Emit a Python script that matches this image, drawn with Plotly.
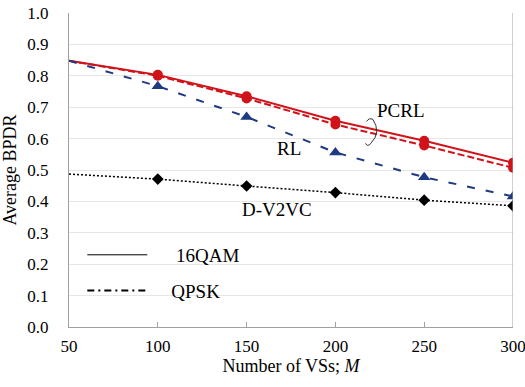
import plotly.graph_objects as go

M = [50, 100, 150, 200, 250, 300]
pcrl_16qam = [0.848, 0.803, 0.735, 0.657, 0.593, 0.523]
pcrl_qpsk = [0.848, 0.800, 0.728, 0.645, 0.578, 0.507]
rl = [0.848, 0.767, 0.669, 0.556, 0.477, 0.416]
dv2vc = [0.487, 0.471, 0.449, 0.428, 0.404, 0.386]

yticks = [round(i * 0.1, 1) for i in range(11)]
xticks = [50, 100, 150, 200, 250, 300]

FONT = "Liberation Serif, Times New Roman, serif"
RED = "#D0131A"
BLUE = "#1F3A80"

msize = lambda s: [0] + [s] * (len(M) - 1)

def mk(symbol, size, color):
    return dict(symbol=symbol, size=msize(size), color=color, opacity=1,
                line=dict(width=0, color=color))

fig = go.Figure()
fig.add_trace(go.Scatter(x=M, y=pcrl_qpsk, mode="lines+markers", showlegend=False,
                         line=dict(color=RED, width=2, dash="7px,3px"),
                         marker=mk("circle", 10, RED)))
fig.add_trace(go.Scatter(x=M, y=pcrl_16qam, mode="lines+markers", showlegend=False,
                         line=dict(color=RED, width=2),
                         marker=mk("circle", 10, RED)))
fig.add_trace(go.Scatter(x=M, y=rl, mode="lines+markers", showlegend=False,
                         line=dict(color=BLUE, width=2, dash="8px,11px"),
                         marker=mk("triangle-up", 11, BLUE)))
fig.add_trace(go.Scatter(x=M, y=dv2vc, mode="lines+markers", showlegend=False,
                         line=dict(color="black", width=1.5, dash="2px,2px"),
                         marker=mk("diamond", 9, "black")))

# legend entries
fig.add_trace(go.Scatter(x=[None], y=[None], mode="lines",
                         name="&nbsp;&nbsp;&nbsp;&nbsp;&nbsp;16QAM", legendgroup="a",
                         line=dict(color="black", width=1)))
fig.add_trace(go.Scatter(x=[None], y=[None], mode="lines",
                         name="&nbsp;&nbsp;&nbsp;&nbsp;QPSK", legendgroup="b",
                         line=dict(color="black", width=2, dash="7px,4px,2px,4px")))

for txt, xx, yy in [("PCRL", 237, 0.690), ("RL", 174, 0.568), ("D-V2VC", 167, 0.375)]:
    fig.add_annotation(x=xx, y=yy, text=txt, showarrow=False,
                       font=dict(family=FONT, size=19, color="black"))

fig.add_shape(type="path", xref="x", yref="y",
              path="M 217.5,0.655 Q 219,0.668 221,0.662 Q 226,0.62 220,0.585 Q 218,0.572 217,0.585",
              line=dict(color="#333333", width=1))

fig.update_layout(
    width=525, height=387,
    margin=dict(l=69, r=12, t=13, b=60),
    plot_bgcolor="white", paper_bgcolor="white",
    font=dict(family=FONT, size=16, color="black"),
    legend=dict(x=0.03, y=0.29, xanchor="left", yanchor="top",
                bgcolor="rgba(0,0,0,0)", font=dict(family=FONT, size=19),
                tracegroupgap=8, itemwidth=60),
    xaxis=dict(range=[50, 300], tickvals=xticks, ticks="inside", ticklen=5,
               tickcolor="#a0a0a0", showline=True, linecolor="#a0a0a0", linewidth=1,
               mirror=False, showgrid=False, zeroline=False, automargin=False,
               ticklabeloverflow="allow",
               title=dict(text="Number of VSs; <i>M</i>", font=dict(family=FONT, size=18), standoff=2),
               tickfont=dict(family=FONT, size=17), ticklabelstandoff=4),
    yaxis=dict(range=[0, 1.0], tickvals=yticks, tickformat=".1f", showline=True,
               linecolor="#a0a0a0", linewidth=1, showgrid=True, gridcolor="#e6e6e6",
               zeroline=False, ticks="", automargin=False, ticklabeloverflow="allow",
               title=dict(text="Average BPDR", font=dict(family=FONT, size=18)),
               tickfont=dict(family=FONT, size=17), ticklabelstandoff=16),
)
fig.add_shape(type="line", xref="x", yref="paper", x0=300, x1=300, y0=0, y1=1,
              line=dict(color="#a0a0a0", width=1))

fig.write_html("out.html")
